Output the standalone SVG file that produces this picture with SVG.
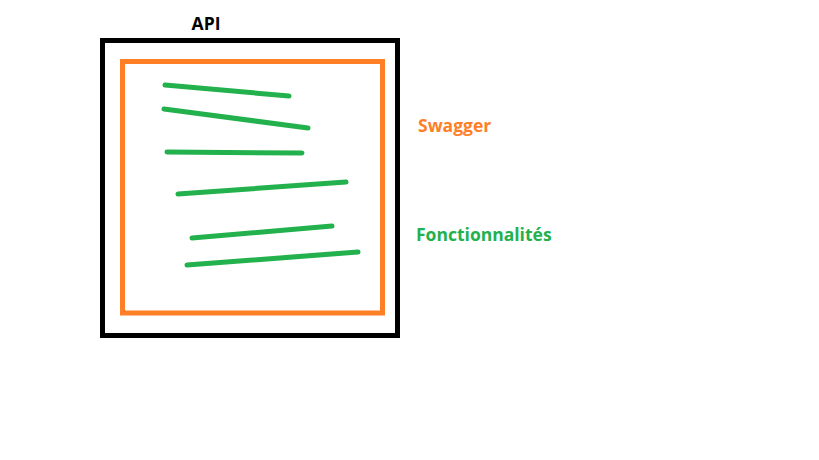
<svg xmlns="http://www.w3.org/2000/svg" width="819" height="460" viewBox="0 0 819 460">
<style>
.lbl{font-family:"Open Sans","Noto Sans","Liberation Sans",sans-serif;font-weight:bold;font-size:17.5px}
.ln{stroke:#22B14C;stroke-width:5;stroke-linecap:round;fill:none}
</style>
<rect width="819" height="460" fill="#fff"/>
<g id="api">
<rect x="102.5" y="40.5" width="295" height="295" fill="none" stroke="#000" stroke-width="5"/>
<text class="lbl" x="206" y="30" text-anchor="middle" fill="#000">API</text>
</g>
<g id="swagger">
<rect x="122.5" y="61.5" width="260" height="251.5" fill="none" stroke="#FF7F27" stroke-width="5"/>
<text class="lbl" x="418" y="132" fill="#FF7F27">Swagger</text>
</g>
<g id="fonctionnalites">
<text class="lbl" x="416" y="241" fill="#22B14C">Fonctionnalités</text>
</g>
<g id="connectors">
<line class="ln" x1="165" y1="85" x2="289" y2="96"/>
<line class="ln" x1="164" y1="109" x2="308" y2="128"/>
<line class="ln" x1="167" y1="152" x2="302" y2="153"/>
<line class="ln" x1="178" y1="194" x2="346" y2="182"/>
<line class="ln" x1="192" y1="238" x2="332" y2="226"/>
<line class="ln" x1="187" y1="265" x2="358" y2="252"/>
</g>
</svg>
